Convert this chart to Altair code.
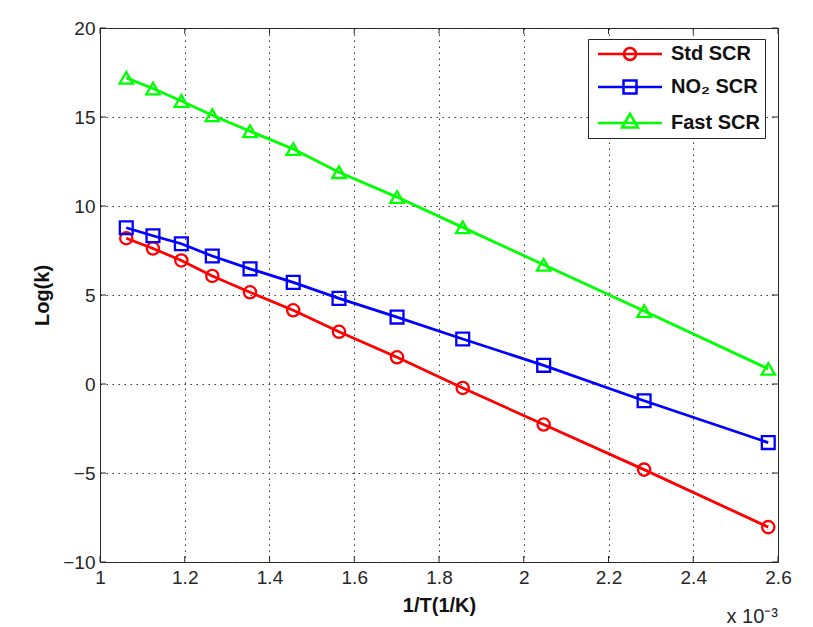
import altair as alt
import pandas as pd

# ---- data ----
inv_T = [1.062, 1.125, 1.192, 1.265, 1.354, 1.456, 1.564, 1.701, 1.856, 2.047, 2.284, 2.577]
std_scr = [8.19, 7.61, 6.94, 6.07, 5.15, 4.14, 2.93, 1.50, -0.22, -2.28, -4.81, -8.04]
no2_scr = [8.78, 8.33, 7.88, 7.19, 6.47, 5.71, 4.81, 3.76, 2.53, 1.05, -0.94, -3.29]
fast_scr = [17.2, 16.6, 15.9, 15.1, 14.2, 13.2, 11.9, 10.5, 8.8, 6.7, 4.1, 0.85]
series_names = ["Std SCR", "NO\u2082 SCR", "Fast SCR"]
series_colors = ["#ff0000", "#0000ff", "#00ff00"]
marker_shapes = ["circle", "square", "triangle-up"]
marker_sizes = [150, 180, 240]
x_ticks = [1, 1.2, 1.4, 1.6, 1.8, 2, 2.2, 2.4, 2.6]
y_ticks = [-10, -5, 0, 5, 10, 15, 20]

# legend symbols: a line segment with the marker on it (units = 7 px)
legend_paths = [
    "M-4.57,0H4.57M-0.86,0A0.86,0.86,0,1,0,0.86,0A0.86,0.86,0,1,0,-0.86,0Z",
    "M-4.57,0H4.57M-0.93,-0.93H0.93V0.93H-0.93Z",
    "M-4.57,0H4.57M0,-1.32L1.14,0.66H-1.14Z",
]

rows = []
for name, vals in zip(series_names, [std_scr, no2_scr, fast_scr]):
    for xv, yv in zip(inv_T, vals):
        rows.append({"series": name, "x": xv, "y": yv})
df = pd.DataFrame(rows)
ticks_x = pd.DataFrame({"t": x_ticks})
ticks_y = pd.DataFrame({"t": y_ticks})

W, H = 678, 534
FONT = "Liberation Sans"
INK = "#262626"

xscale = alt.Scale(domain=[1, 2.6], nice=False, zero=False)
yscale = alt.Scale(domain=[-10, 20], nice=False, zero=False)

x_axis = alt.Axis(
    values=x_ticks, format="~g", title="1/T(1/K)",
    titleFont=FONT, titleFontSize=20, titleFontWeight="bold", titleColor="#111111", titlePadding=8,
    labelFont=FONT, labelFontSize=19, labelColor=INK, labelPadding=6,
    labelFlush=False, labelOverlap=False,
    ticks=False, domain=False, grid=True, gridColor="#333333", gridDash=[1.5, 4.5], gridWidth=1,
)
y_axis = alt.Axis(
    values=y_ticks, title="Log(k)",
    titleFont=FONT, titleFontSize=20, titleFontWeight="bold", titleColor="#111111", titlePadding=10,
    labelFont=FONT, labelFontSize=19, labelColor=INK, labelPadding=5,
    labelFlush=False, labelOverlap=False,
    ticks=False, domain=False, grid=True, gridColor="#333333", gridDash=[1.5, 4.5], gridWidth=1,
)


def X(field):
    return alt.X(f"{field}:Q", scale=xscale, axis=x_axis)


def Y(field):
    return alt.Y(f"{field}:Q", scale=yscale, axis=y_axis)


def color_enc(legend=None):
    return alt.Color("series:N", scale=alt.Scale(domain=series_names, range=series_colors), legend=legend)


base = alt.Chart(df)

lines = base.mark_line(strokeWidth=2.8).encode(x=X("x"), y=Y("y"), color=color_enc(), detail="series:N")

points = base.mark_point(filled=False, opacity=1, strokeWidth=2.3).encode(
    x=X("x"), y=Y("y"), color=color_enc(),
    shape=alt.Shape("series:N", scale=alt.Scale(domain=series_names, range=marker_shapes), legend=None),
    size=alt.Size("series:N", scale=alt.Scale(domain=series_names, range=marker_sizes), legend=None),
)

leg = alt.Legend(
    title=None, orient="none", legendX=488, legendY=11, direction="vertical",
    fillColor="white", strokeColor=INK, padding=5, rowPadding=9,
    symbolOffset=27, labelOffset=31, symbolSize=196, symbolStrokeWidth=2.5, symbolOpacity=1,
    labelFont=FONT, labelFontSize=20, labelFontWeight="bold", labelColor="#111111", labelLimit=300,
)

legend_layer = base.transform_filter("false").mark_point(
    filled=False, opacity=1, strokeWidth=2.5, size=196
).encode(
    x=X("x"), y=Y("y"), color=color_enc(leg),
    shape=alt.Shape("series:N", scale=alt.Scale(domain=series_names, range=legend_paths), legend=leg),
)

tick_len = 6
tx_bottom = alt.Chart(ticks_x).mark_rule(color=INK, strokeWidth=1).encode(
    x=X("t"), y=alt.value(H), y2=alt.value(H - tick_len))
tx_top = alt.Chart(ticks_x).mark_rule(color=INK, strokeWidth=1).encode(
    x=X("t"), y=alt.value(0), y2=alt.value(tick_len))
ty_left = alt.Chart(ticks_y).mark_rule(color=INK, strokeWidth=1).encode(
    y=Y("t"), x=alt.value(0), x2=alt.value(tick_len))
ty_right = alt.Chart(ticks_y).mark_rule(color=INK, strokeWidth=1).encode(
    y=Y("t"), x=alt.value(W), x2=alt.value(W - tick_len))

chart = alt.layer(
    tx_bottom, tx_top, ty_left, ty_right, lines, points, legend_layer
).resolve_scale(
    color="independent", shape="independent", size="independent"
).properties(
    width=W, height=H,
    autosize=alt.AutoSizeParams(type="none"),
    padding={"left": 100, "top": 28, "right": 35, "bottom": 65},
    background="white",
    title=alt.TitleParams(
        "x 10\u207b\u00b3", orient="bottom", anchor="end", frame="group", font=FONT, fontSize=20,
        fontWeight="normal", color=INK, offset=-8,
    ),
).configure_view(stroke=INK, strokeWidth=1)

chart.save("out.html", embed_options={"renderer": "svg", "actions": False})
